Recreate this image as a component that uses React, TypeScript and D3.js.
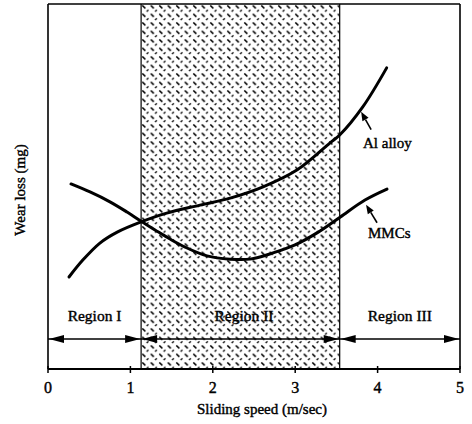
import React from "react";
import * as d3 from "d3";

// Sliding speed (m/sec) samples and wear loss (arbitrary units) for each material
const alloySpeed = [0.255, 0.425, 0.63, 0.84, 1.13, 1.44, 1.845, 2.21, 2.61, 3.02, 3.42, 3.54, 3.82, 4.11];
const alloyWear = [25.2, 29.9, 34.5, 37.5, 40.3, 42.7, 44.9, 46.8, 49.9, 54.5, 61.9, 64.1, 71.8, 82.5];

const mmcSpeed = [0.279, 0.51, 0.752, 0.959, 1.129, 1.299, 1.481, 1.663, 1.93, 2.209, 2.451, 2.731, 2.998, 3.265, 3.544, 3.847, 4.114];
const mmcWear = [50.7, 48.5, 45.8, 43.0, 40.5, 38.1, 35.6, 33.4, 31.0, 30.1, 30.1, 31.8, 34.0, 37.3, 41.6, 46.3, 49.3];

// Speed ranges of the three wear regimes
const regionNames = ["Region I", "Region II", "Region III"];
const regionBounds = [0, 1.13, 3.54, 5];

const xTicks = [0, 1, 2, 3, 4, 5];

const W = 472;
const H = 424;
const left = 48;
const right = 460;
const top = 4;
const bottom = 369;
const font = "'Liberation Serif', 'DejaVu Serif', serif";

const textStyle = {
  fontFamily: font,
  stroke: "#000",
  strokeWidth: 0.4,
  fill: "#000",
};

export default function App() {
  const x = d3.scaleLinear().domain([0, 5]).range([left, right]);
  const y = d3.scaleLinear().domain([0, 100]).range([bottom, top]);

  const line = d3
    .line<[number, number]>()
    .x((d) => x(d[0]))
    .y((d) => y(d[1]))
    .curve(d3.curveCatmullRom.alpha(0.5));

  const alloyPts = alloySpeed.map((s, i) => [s, alloyWear[i]] as [number, number]);
  const mmcPts = mmcSpeed.map((s, i) => [s, mmcWear[i]] as [number, number]);

  const arrowY = 339;
  const head = (tipX: number, tipY: number, dir: number, len = 15, hw = 4) =>
    `M${tipX},${tipY} L${tipX - dir * len},${tipY - hw} L${tipX - dir * len},${tipY + hw} Z`;

  // Leader arrow pointing at a curve
  const leader = (tx: number, ty: number, dx: number, dy: number) => {
    const L = Math.hypot(dx, dy);
    const ux = -dx / L;
    const uy = -dy / L;
    const len = 9;
    const hw = 3.5;
    const bx = tx - ux * len;
    const by = ty - uy * len;
    const px = -uy;
    const py = ux;
    return (
      <g>
        <line x1={tx + dx} y1={ty + dy} x2={bx} y2={by} stroke="#000" strokeWidth={1.6} />
        <path
          d={`M${tx},${ty} L${bx + px * hw},${by + py * hw} L${bx - px * hw},${by - py * hw} Z`}
          fill="#000"
        />
      </g>
    );
  };

  const x1 = x(regionBounds[1]);
  const x2 = x(regionBounds[2]);

  return (
    <svg width={W} height={H} style={{ position: "absolute", left: 0, top: 0, background: "#fff" }}>
      <defs>
        <pattern id="plate" width={8.5} height={8.5} patternUnits="userSpaceOnUse" x={x1} y={top}>
          <line x1={1.2} y1={1.4} x2={4.2} y2={4.4} stroke="#000" strokeWidth={1.6} />
          <line x1={5.5} y1={7.6} x2={7.3} y2={5.8} stroke="#000" strokeWidth={1.3} />
        </pattern>
      </defs>

      {/* Region II shading */}
      <rect x={x1} y={top} width={x2 - x1} height={bottom - top} fill="url(#plate)" />

      {/* Frame */}
      <line x1={left} y1={top} x2={right} y2={top} stroke="#000" strokeWidth={1.6} />
      <line x1={left} y1={top} x2={left} y2={bottom} stroke="#000" strokeWidth={1.6} />
      <line x1={right} y1={top} x2={right} y2={bottom} stroke="#000" strokeWidth={1.6} />
      <line x1={x1} y1={top} x2={x1} y2={bottom} stroke="#000" strokeWidth={1.2} />
      <line x1={x2} y1={top} x2={x2} y2={bottom} stroke="#000" strokeWidth={1.2} />

      {/* X axis */}
      <line x1={left} y1={bottom} x2={right} y2={bottom} stroke="#000" strokeWidth={2} />
      {xTicks.map((t) => (
        <g key={t}>
          <line x1={x(t)} y1={bottom - 3} x2={x(t)} y2={bottom + 4} stroke="#000" strokeWidth={1.5} />
          <text x={x(t)} y={393} textAnchor="middle" fontSize={16} style={textStyle}>
            {t}
          </text>
        </g>
      ))}
      <text x={262} y={414} textAnchor="middle" fontSize={15} style={textStyle}>
        Sliding speed (m/sec)
      </text>
      <text transform="translate(25,190) rotate(-90)" textAnchor="middle" fontSize={15} style={textStyle}>
        Wear loss (mg)
      </text>

      {/* Region spans */}
      {regionNames.map((name, i) => {
        const a = x(regionBounds[i]);
        const b = x(regionBounds[i + 1]);
        const cx = i === 1 ? 244 : (a + b) / 2;
        return (
          <g key={name}>
            <line x1={a} y1={arrowY} x2={b} y2={arrowY} stroke="#000" strokeWidth={1.3} />
            <path d={head(a + 1, arrowY, -1)} fill="#000" />
            <path d={head(b - 1, arrowY, 1)} fill="#000" />
            <text x={cx} y={321} textAnchor="middle" fontSize={15.5} style={textStyle}>
              {name}
            </text>
          </g>
        );
      })}

      {/* Wear curves */}
      <path d={line(alloyPts) ?? ""} fill="none" stroke="#000" strokeWidth={3} strokeLinecap="round" />
      <path d={line(mmcPts) ?? ""} fill="none" stroke="#000" strokeWidth={3} strokeLinecap="round" />

      {/* Curve labels */}
      {leader(x(3.8), y(70.5), 10, 18)}
      <text x={363} y={148} fontSize={15} style={textStyle}>
        Al alloy
      </text>
      {leader(x(3.86), y(45), 11, 18)}
      <text x={368} y={238} fontSize={15} style={textStyle}>
        MMCs
      </text>
    </svg>
  );
}
